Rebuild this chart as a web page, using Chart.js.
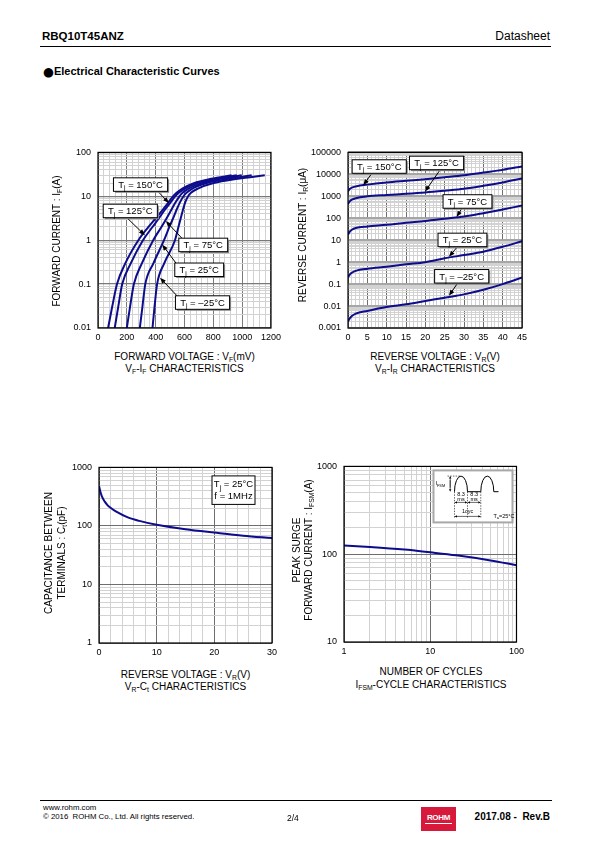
<!DOCTYPE html>
<html>
<head>
<meta charset="utf-8">
<script src="https://cdn.jsdelivr.net/npm/chart.js@4.4.1/dist/chart.umd.min.js"></script>
<style>
  body { margin: 0; width: 595px; height: 842px; position: relative; background: #fff; overflow: hidden;
         font-family: "Liberation Sans", Arial, sans-serif; color: #000; }
  .t { position: absolute; white-space: nowrap; line-height: 1; transform: translate(-50%, -50%); font-size: 10px; }
  .l { transform: translate(0, -50%); }
  .r { transform: translate(-100%, -50%); }
  .rot { transform: translate(-50%, -50%) rotate(-90deg); }
  .t sub { font-size: 68%; vertical-align: baseline; position: relative; top: 0.3em; }
  canvas { position: absolute; }
  .rule { position: absolute; background: #000; }
</style>
</head>
<body>

<div class="t l" style="left:42px; top:37px; font-size:11.5px; font-weight:bold;">RBQ10T45ANZ</div>
<div class="t r" style="left:550px; top:36px; font-size:12px;">Datasheet</div>
<div class="rule" style="left:40px; top:45.5px; width:511px; height:1.3px;"></div>
<div class="t l" style="left:43px; top:71px; font-size:11px; font-weight:bold;"><span style="font-size:12.5px; position:relative; top:0.5px; font-family:'DejaVu Sans';">●</span>Electrical Characteristic Curves</div>

<canvas id="vfChart"></canvas>
<canvas id="irChart"></canvas>
<canvas id="ctChart"></canvas>
<canvas id="ifsmChart"></canvas>

<div class="t rot" style="left:57px; top:241px;">FORWARD CURRENT : I<sub>F</sub>(A)</div>
<div class="t" style="left:184.5px; top:357px;">FORWARD VOLTAGE : V<sub>F</sub>(mV)</div>
<div class="t" style="left:184.5px; top:369px;">V<sub>F</sub>-I<sub>F</sub> CHARACTERISTICS</div>

<div class="t rot" style="left:302.5px; top:235px;">REVERSE CURRENT : I<sub>R</sub>(μA)</div>
<div class="t" style="left:435px; top:357px;">REVERSE VOLTAGE : V<sub>R</sub>(V)</div>
<div class="t" style="left:435px; top:369px;">V<sub>R</sub>-I<sub>R</sub> CHARACTERISTICS</div>

<div class="t rot" style="left:48.5px; top:553px;">CAPACITANCE BETWEEN</div>
<div class="t rot" style="left:61.5px; top:553px;">TERMINALS : C<sub>t</sub>(pF)</div>
<div class="t" style="left:185.5px; top:674.5px;">REVERSE VOLTAGE : V<sub>R</sub>(V)</div>
<div class="t" style="left:185.5px; top:686.5px;">V<sub>R</sub>-C<sub>t</sub> CHARACTERISTICS</div>

<div class="t rot" style="left:297px; top:550px;">PEAK SURGE</div>
<div class="t rot" style="left:309px; top:550px;">FORWARD CURRENT : I<sub>FSM</sub>(A)</div>
<div class="t" style="left:431px; top:672px;">NUMBER OF CYCLES</div>
<div class="t" style="left:431px; top:685px;">I<sub>FSM</sub>-CYCLE CHARACTERISTICS</div>

<div class="rule" style="left:40px; top:799.5px; width:512px; height:0.8px;"></div>
<div class="t l" style="left:43px; top:808px; font-size:7.8px;">www.rohm.com</div>
<div class="t l" style="left:43px; top:817px; font-size:7.8px;">© 2016&nbsp; ROHM Co., Ltd. All rights reserved.</div>
<div class="t l" style="left:287px; top:818px; font-size:8.5px;">2/4</div>
<div style="position:absolute; left:421px; top:807px; width:35px; height:24px; background:#d71a3c;"></div>
<div class="t" style="left:438.5px; top:818px; font-size:8px; font-weight:bold; color:#fff; letter-spacing:-0.3px;">ROHM</div>
<div style="position:absolute; left:425px; top:823px; width:27px; height:0.8px; background:#fff;"></div>
<div class="t r" style="left:550px; top:817px; font-size:10px; font-weight:bold;">2017.08 -&nbsp; Rev.B</div>

<script>
// ---- VF-IF : forward voltage (mV) of each temperature at the listed currents (A)
const ifLevels = [0.01, 0.03, 0.1, 0.3, 1, 2, 3, 5, 7, 10, 12, 15, 20, 25, 30];
const vf150 = [70, 98, 132, 190, 280, 350, 395, 450, 485, 520, 545, 585, 665, 785, 927];
const vf125 = [116, 140, 168, 228, 312, 378, 418, 465, 500, 535, 560, 603, 690, 815, 962];
const vf75 = [200, 222, 249, 305, 383, 440, 472, 510, 535, 565, 587, 628, 720, 850, 997];
const vf25 = [290, 308, 328, 385, 458, 495, 518, 546, 566, 593, 614, 655, 755, 905, 1066];
const vfM25 = [378, 392, 410, 460, 534, 558, 572, 590, 603, 625, 645, 693, 802, 970, 1157];
const vfTickLabels = ['0', '200', '400', '600', '800', '1000', '1200'];
const ifTickLabels = ['0.01', '0.1', '1', '10', '100'];

// ---- VR-IR : reverse current (uA) at the listed reverse voltages (V)
const vrLevels = [0, 0.5, 1, 2, 5, 10, 15, 20, 25, 30, 35, 40, 45];
const ir150 = [1700, 2200, 2500, 2800, 3400, 4300, 5100, 6000, 7300, 9000, 12000, 16000, 23000];
const ir125 = [450, 600, 700, 820, 1000, 1150, 1300, 1500, 1800, 2200, 3000, 4300, 6500];
const ir75 = [18, 25, 30, 36, 42, 50, 62, 75, 95, 120, 170, 250, 380];
const ir25 = [0.2, 0.28, 0.33, 0.4, 0.5, 0.62, 0.8, 1.0, 1.5, 2.1, 3.0, 5.0, 9.0];
const irM25 = [0.002, 0.0028, 0.0035, 0.0045, 0.006, 0.009, 0.012, 0.017, 0.024, 0.034, 0.055, 0.1, 0.2];
const vrTickLabels = ['0', '5', '10', '15', '20', '25', '30', '35', '40', '45'];
const irTickLabels = ['0.001', '0.01', '0.1', '1', '10', '100', '1000', '10000', '100000'];

// ---- VR-Ct : capacitance (pF)
const ctVolts = [0, 0.25, 0.5, 1, 1.5, 2, 3, 5, 7, 10, 15, 20, 25, 30];
const ctValues = [480, 380, 320, 260, 225, 205, 175, 140, 122, 105, 88, 77, 68, 62];
const ctXTickLabels = ['0', '10', '20', '30'];
const ctYTickLabels = ['1', '10', '100', '1000'];

// ---- IFSM-cycles
const cycles = [1, 2, 5, 10, 20, 50, 100];
const ifsmValues = [126, 121, 113, 105, 97, 85, 75];
const cycTickLabels = ['1', '10', '100'];
const ifsmTickLabels = ['10', '100', '1000'];

// ---- label boxes with arrows (data coordinates)
const vfTags = [
    {temp: '150', box: [295, 18.5], tail: [418, 12.7], tip: [492, 7.0]},
    {temp: '125', box: [224, 4.64], tail: [201, 3.24], tip: [325, 1.3]},
    {temp: '75', box: [730, 0.78], tail: [581, 1.12], tip: [470, 2.74]},
    {temp: '25', box: [702, 0.212], tail: [550, 0.274], tip: [445, 0.8]},
    {temp: '–25', box: [725, 0.038], tail: [569, 0.0457], tip: [430, 0.14]}
];
const irTags = [
    {temp: '150', box: [8.07, 22700], tail: [6.2, 11300], tip: [3.96, 3180]},
    {temp: '125', box: [22.9, 33100], tail: [23.8, 15800], tip: [19.9, 1630]},
    {temp: '75', box: [30.9, 581], tail: [29.5, 293], tip: [28.1, 113]},
    {temp: '25', box: [29.6, 10.3], tail: [28.4, 5.25], tip: [26.1, 1.75]},
    {temp: '–25', box: [29.4, 0.227], tail: [28.4, 0.114], tip: [26.1, 0.0293]}
];

const FONT = '"Liberation Sans", Arial, sans-serif';
const NAVY = '#0c0c8c';
const MINOR = '#d2d2d2';
Chart.defaults.font.family = FONT;

function isDecade(v) {
    const l = Math.log10(v);
    return Math.abs(l - Math.round(l)) < 1e-6;
}

function logTicks(min, max) {
    const out = [];
    for (let e = Math.floor(Math.log10(min) + 1e-9); e <= Math.ceil(Math.log10(max) - 1e-9); e++) {
        for (let s = 1; s <= 9; s++) {
            const v = Number((s * Math.pow(10, e)).toPrecision(12));
            if (v >= min * (1 - 1e-9) && v <= max * (1 + 1e-9)) out.push({value: v});
        }
    }
    return out;
}

function linTicks(min, max, step) {
    const out = [];
    for (let v = min; v <= max + 1e-9; v += step) out.push({value: Number(v.toFixed(6))});
    return out;
}

function tickText(v, labels) {
    const hit = labels.find(l => {
        const n = Number(l);
        return n === v || Math.abs(n - v) <= Math.abs(v) * 1e-6;
    });
    return hit === undefined ? '' : hit;
}

function isMajor(v, a) {
    if (a.log) return isDecade(v);
    const q = v / a.major;
    return Math.abs(q - Math.round(q)) < 1e-6;
}

function axis(a, dir, size) {
    const major = c => c.tick && isMajor(c.tick.value, a);
    return {
        type: a.log ? 'logarithmic' : 'linear',
        position: dir === 'x' ? 'bottom' : 'left',
        min: a.min,
        max: a.max,
        afterBuildTicks: s => { s.ticks = a.log ? logTicks(a.min, a.max) : linTicks(a.min, a.max, a.step); },
        afterFit: s => { if (dir === 'x') s.height = size; else s.width = size; },
        ticks: {
            autoSkip: false, maxRotation: 0, minRotation: 0,
            padding: dir === 'x' ? 4 : 7,
            color: '#000',
            font: {size: 9, family: FONT},
            callback: v => tickText(v, a.labels)
        },
        grid: {
            drawTicks: false,
            color: c => major(c) ? a.majorColor : MINOR,
            lineWidth: c => major(c) ? a.majorWidth : 1
        },
        border: {display: false}
    };
}

function curve(xs, ys) {
    return {
        data: xs.map((x, i) => ({x: x, y: ys[i]})),
        borderColor: NAVY,
        borderWidth: 2,
        pointRadius: 0,
        fill: false,
        cubicInterpolationMode: 'monotone'
    };
}

// text with subscripts: parts = [[text, isSub], ...], y = baseline
function drawRich(ctx, parts, x, y, size, align) {
    const w = parts.map(p => {
        ctx.font = (p[1] ? size * 0.7 : size) + 'px ' + FONT;
        return ctx.measureText(p[0]).width;
    });
    const total = w.reduce((s, v) => s + v, 0);
    let cx = align === 'center' ? x - total / 2 : (align === 'right' ? x - total : x);
    ctx.textAlign = 'left';
    ctx.textBaseline = 'alphabetic';
    parts.forEach((p, i) => {
        ctx.font = (p[1] ? size * 0.7 : size) + 'px ' + FONT;
        ctx.fillText(p[0], cx, p[1] ? y + size * 0.25 : y);
        cx += w[i];
    });
    return total;
}

function drawArrow(ctx, x1, y1, x2, y2, len, half) {
    const a = Math.atan2(y2 - y1, x2 - x1);
    ctx.beginPath();
    ctx.moveTo(x1, y1);
    ctx.lineTo(x2 - len * 0.8 * Math.cos(a), y2 - len * 0.8 * Math.sin(a));
    ctx.stroke();
    ctx.beginPath();
    ctx.moveTo(x2, y2);
    ctx.lineTo(x2 - len * Math.cos(a) + half * Math.sin(a), y2 - len * Math.sin(a) - half * Math.cos(a));
    ctx.lineTo(x2 - len * Math.cos(a) - half * Math.sin(a), y2 - len * Math.sin(a) + half * Math.cos(a));
    ctx.closePath();
    ctx.fill();
}

function shadowBox(ctx, x, y, w, h) {
    ctx.fillStyle = '#8c8c8c';
    ctx.fillRect(x + 1.5, y + 1.5, w, h);
    ctx.fillStyle = '#fff';
    ctx.fillRect(x, y, w, h);
    ctx.strokeStyle = '#000';
    ctx.lineWidth = 1;
    ctx.strokeRect(x, y, w, h);
}

const framePlugin = {
    id: 'frame',
    afterDraw(chart) {
        const a = chart.chartArea, ctx = chart.ctx;
        ctx.save();
        ctx.strokeStyle = '#000';
        ctx.lineWidth = 1.2;
        ctx.strokeRect(a.left, a.top, a.right - a.left, a.bottom - a.top);
        ctx.restore();
    }
};

const tagPlugin = {
    id: 'tags',
    afterDatasetsDraw(chart, args, opts) {
        const ctx = chart.ctx, sx = chart.scales.x, sy = chart.scales.y;
        (opts.items || []).forEach(t => {
            const cx = sx.getPixelForValue(t.box[0]), cy = sy.getPixelForValue(t.box[1]);
            ctx.save();
            ctx.strokeStyle = '#000';
            ctx.fillStyle = '#000';
            ctx.lineWidth = 1;
            drawArrow(ctx, sx.getPixelForValue(t.tail[0]), sy.getPixelForValue(t.tail[1]),
                sx.getPixelForValue(t.tip[0]), sy.getPixelForValue(t.tip[1]), 6, 2.3);
            const parts = [['T', 0], ['j', 1], [' = ' + t.temp + '°C', 0]];
            ctx.font = '9.5px ' + FONT;
            const tw = ctx.measureText('T = ' + t.temp + '°C').width + 3;
            const w = tw + 8, h = 13.5;
            shadowBox(ctx, cx - w / 2, cy - h / 2, w, h);
            ctx.fillStyle = '#000';
            drawRich(ctx, parts, cx, cy + 3.4, 9.5, 'center');
            ctx.restore();
        });
    }
};

const notePlugin = {
    id: 'note',
    afterDatasetsDraw(chart, args, opts) {
        const a = chart.chartArea, ctx = chart.ctx;
        const w = 43, h = 28.5, x = a.right - 17 - w, y = a.top + 8.5;
        ctx.save();
        ctx.fillStyle = '#fff';
        ctx.fillRect(x, y, w, h);
        ctx.strokeStyle = '#000';
        ctx.lineWidth = 1;
        ctx.strokeRect(x, y, w, h);
        ctx.fillStyle = '#000';
        drawRich(ctx, [['T', 0], ['j', 1], [' = ' + opts.temp, 0]], x + w / 2, y + 11.5, 9.5, 'center');
        drawRich(ctx, [[opts.freq, 0]], x + w / 2, y + 23.5, 9.5, 'center');
        ctx.restore();
    }
};

const pulsePlugin = {
    id: 'pulse',
    afterDatasetsDraw(chart) {
        const a = chart.chartArea, ctx = chart.ctx;
        const bx = a.right - 83, by = a.top + 4, bw = 79, bh = 52;
        const base = by + 21.3, top = by + 5.7, r = (base - top);
        const h1 = bx + 21, h2 = bx + 34, h3 = bx + 47.3, h4 = bx + 60.3;
        ctx.save();
        ctx.fillStyle = '#fff';
        ctx.fillRect(bx, by, bw, bh);
        ctx.strokeStyle = '#a8a8a8';
        ctx.lineWidth = 2;
        ctx.strokeRect(bx, by, bw, bh);

        ctx.strokeStyle = '#000';
        ctx.fillStyle = '#000';
        ctx.lineWidth = 1;
        ctx.beginPath();
        ctx.ellipse((h1 + h2) / 2, base, (h2 - h1) / 2, r, 0, Math.PI, 0);
        ctx.lineTo(h3, base);
        ctx.ellipse((h3 + h4) / 2, base, (h4 - h3) / 2, r, 0, Math.PI, 0);
        ctx.lineTo(bx + 65, base);
        ctx.stroke();

        ctx.lineWidth = 0.6;
        ctx.setLineDash([1.5, 1.2]);
        ctx.beginPath();
        ctx.moveTo(bx + 14, top); ctx.lineTo(bx + 27, top);
        [h1, h2, h3].forEach(x => { ctx.moveTo(x, base); ctx.lineTo(x, by + 48); });
        ctx.stroke();
        ctx.setLineDash([]);

        drawArrow(ctx, bx + 16.7, base - 4, bx + 16.7, top, 2.5, 1.2);
        drawArrow(ctx, bx + 16.7, top + 4, bx + 16.7, base, 2.5, 1.2);
        [[h1, h2], [h2, h3]].forEach(p => {
            const m = (p[0] + p[1]) / 2;
            drawArrow(ctx, m, by + 32, p[0], by + 32, 2.5, 1.2);
            drawArrow(ctx, m, by + 32, p[1], by + 32, 2.5, 1.2);
            drawRich(ctx, [['8.3', 0]], m, by + 26, 5.5, 'center');
            drawRich(ctx, [['ms', 0]], m, by + 30.3, 5.5, 'center');
        });
        const mc = (h1 + h3) / 2;
        drawArrow(ctx, mc, by + 46, h1, by + 46, 2.5, 1.2);
        drawArrow(ctx, mc, by + 46, h3, by + 46, 2.5, 1.2);
        drawRich(ctx, [['1cyc', 0]], mc, by + 42.5, 5.5, 'center');
        drawRich(ctx, [['I', 0], ['FSM', 1]], bx + 2, by + 15, 5.5, 'left');
        drawRich(ctx, [['T', 0], ['a', 1], ['=25°C', 0]], bx + 60, by + 47.5, 5.5, 'left');
        ctx.restore();
    }
};

function makeChart(id, box, xAxis, yAxis, datasets, plugins, pluginOpts) {
    const cv = document.getElementById(id);
    const left = box.l - box.yW, top = box.t - box.padT;
    const w = box.r + box.padR - left, h = box.b + box.xH - top;
    cv.style.left = left + 'px';
    cv.style.top = top + 'px';
    cv.width = w;
    cv.height = h;
    return new Chart(cv.getContext('2d'), {
        type: 'line',
        data: {datasets: datasets},
        options: {
            responsive: false,
            animation: false,
            devicePixelRatio: 1,
            layout: {padding: {top: box.padT, right: box.padR, left: 0, bottom: 0}},
            plugins: Object.assign({legend: {display: false}, tooltip: {enabled: false}}, pluginOpts),
            scales: {x: axis(xAxis, 'x', box.xH), y: axis(yAxis, 'y', box.yW)}
        },
        plugins: [framePlugin].concat(plugins)
    });
}

makeChart('vfChart',
    {l: 98, t: 148, r: 271, b: 328, yW: 40, xH: 16, padT: 8, padR: 14},
    {min: 0, max: 1200, step: 40, major: 200, labels: vfTickLabels, majorColor: '#7a7a7a', majorWidth: 1},
    {log: true, min: 0.01, max: 100, labels: ifTickLabels, majorColor: '#7a7a7a', majorWidth: 1.3},
    [curve(vf150, ifLevels), curve(vf125, ifLevels), curve(vf75, ifLevels), curve(vf25, ifLevels), curve(vfM25, ifLevels)],
    [tagPlugin], {tags: {items: vfTags}});

makeChart('irChart',
    {l: 348, t: 148, r: 522, b: 328, yW: 44, xH: 16, padT: 8, padR: 10},
    {min: 0, max: 45, step: 1, major: 5, labels: vrTickLabels, majorColor: '#6e6e6e', majorWidth: 1},
    {log: true, min: 0.001, max: 100000, labels: irTickLabels, majorColor: '#a6a6a6', majorWidth: 2},
    [curve(vrLevels, ir150), curve(vrLevels, ir125), curve(vrLevels, ir75), curve(vrLevels, ir25), curve(vrLevels, irM25)],
    [tagPlugin], {tags: {items: irTags}});

makeChart('ctChart',
    {l: 99, t: 463, r: 272, b: 643, yW: 40, xH: 16, padT: 8, padR: 10},
    {min: 0, max: 30, step: 2, major: 10, labels: ctXTickLabels, majorColor: '#6e6e6e', majorWidth: 1},
    {log: true, min: 1, max: 1000, labels: ctYTickLabels, majorColor: '#6e6e6e', majorWidth: 1},
    [curve(ctVolts, ctValues)],
    [notePlugin], {note: {temp: '25°C', freq: 'f = 1MHz'}});

makeChart('ifsmChart',
    {l: 344, t: 462, r: 518, b: 642, yW: 36, xH: 16, padT: 8, padR: 10},
    {log: true, min: 1, max: 100, labels: cycTickLabels, majorColor: '#6e6e6e', majorWidth: 1},
    {log: true, min: 10, max: 1000, labels: ifsmTickLabels, majorColor: '#6e6e6e', majorWidth: 1},
    [curve(cycles, ifsmValues)],
    [pulsePlugin], {});
</script>
</body>
</html>
